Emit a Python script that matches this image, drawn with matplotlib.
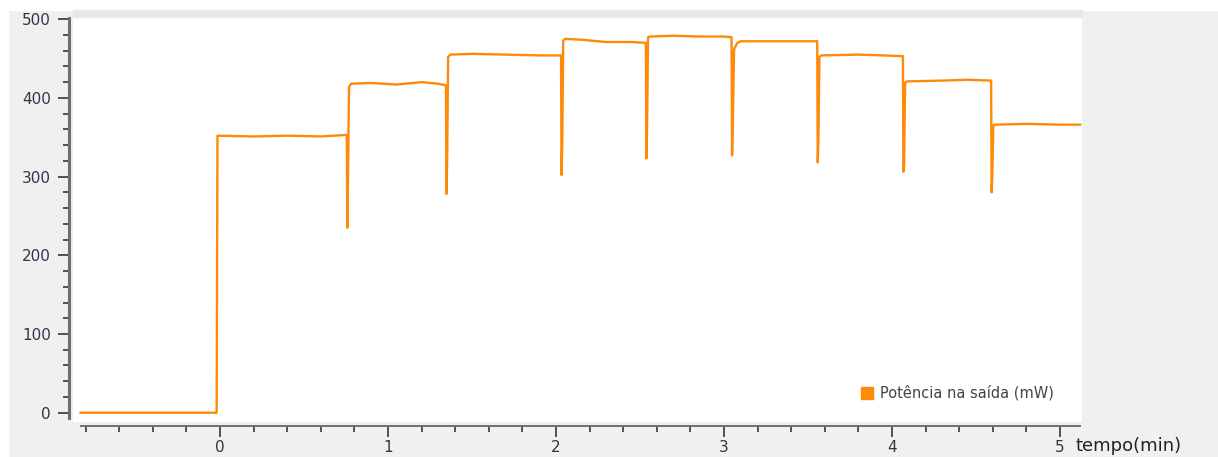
import matplotlib.pyplot as plt
from matplotlib.patches import Rectangle
from matplotlib.lines import Line2D
from matplotlib.ticker import MultipleLocator

# tempo (min) and potência (mW)
t = [-0.83, -0.02, -0.015, 0.2, 0.4, 0.6, 0.755,
     0.758, 0.762, 0.768, 0.78, 0.9, 1.05, 1.2, 1.3, 1.345,
     1.348, 1.352, 1.358, 1.37, 1.5, 1.7, 1.9, 2.03,
     2.033, 2.037, 2.043, 2.055, 2.15, 2.3, 2.45, 2.535,
     2.538, 2.542, 2.548, 2.56, 2.7, 2.85, 3.0, 3.045,
     3.048, 3.052, 3.06, 3.08, 3.1, 3.3, 3.45, 3.555,
     3.558, 3.562, 3.568, 3.58, 3.8, 3.95, 4.065,
     4.068, 4.072, 4.078, 4.09, 4.3, 4.45, 4.59,
     4.593, 4.597, 4.603, 4.615, 4.8, 5.0, 5.12]
p = [0, 0, 352, 351, 352, 351, 353,
     235, 300, 414, 418, 419, 417, 420, 418, 416,
     278, 320, 452, 455, 456, 455, 454, 454,
     302, 340, 473, 475, 474, 471, 471, 470,
     323, 360, 477, 478, 479, 478, 478, 477,
     327, 360, 462, 470, 472, 472, 472, 472,
     318, 345, 452, 454, 455, 454, 453,
     306, 315, 419, 421, 422, 423, 422,
     280, 300, 365, 366, 367, 366, 366]

yticks = [0, 100, 200, 300, 400, 500]
xticks = [0, 1, 2, 3, 4, 5]

fig = plt.figure(figsize=(12.18, 4.57), dpi=100)
fig.patch.set_facecolor('#f0f0f0')
# white margins and the grey strip above the plot
fig.patches.append(Rectangle((0, 1 - 10/457), 1, 10/457, transform=fig.transFigure,
                             color='white', zorder=0))
fig.patches.append(Rectangle((0, 0), 8/1218, 1, transform=fig.transFigure,
                             color='white', zorder=0))
fig.patches.append(Rectangle((73/1218, 1 - 17/457), (1082-73)/1218, 7/457,
                             transform=fig.transFigure, color='#e8e8e8', zorder=0))

ax = fig.add_axes([73/1218, 1 - 422/457, (1082-73)/1218, (422-17)/457])
ax.set_facecolor('white')
ax.plot(t, p, color='#ff8a0a', lw=1.7)

ax.set_xlim(-0.875, 5.131)
ax.set_ylim(-11.8, 502.8)

for s in ['top', 'right']:
    ax.spines[s].set_visible(False)
ax.spines['left'].set_position(('outward', 3))
ax.spines['left'].set_linewidth(2.2)
ax.spines['left'].set_color('#6e6e6e')
ax.spines['left'].set_bounds(-7, 502)
ax.spines['bottom'].set_position(('outward', 3))
ax.spines['bottom'].set_linewidth(1.4)
ax.spines['bottom'].set_color('#6e6e6e')
ax.spines['bottom'].set_bounds(-0.83, 5.12)

ax.set_yticks(yticks)
ax.set_xticks(xticks)
ax.yaxis.set_minor_locator(MultipleLocator(20))
ax.xaxis.set_minor_locator(MultipleLocator(0.2))
ax.tick_params(axis='both', which='major', length=8, width=1.3, color='#444444',
               labelsize=11, labelcolor='#33334a')
ax.tick_params(axis='x', which='major', pad=2)
ax.tick_params(axis='y', which='major', pad=5)
ax.tick_params(axis='both', which='minor', length=4, width=1.3, color='#444444')

fig.text(1075/1218, 1 - 446/457, 'tempo(min)', fontsize=13, color='#222222',
         va='center', ha='left')

handle = Line2D([], [], color='#ff8a0a', marker='s', markersize=8, linestyle='none')
leg = ax.legend([handle], ['Potência na saída (mW)'], loc='lower right', frameon=False,
                fontsize=10.5, handlelength=0.8, handletextpad=0.5,
                bbox_to_anchor=(0.985, 0.02))
for txt in leg.get_texts():
    txt.set_color('#444444')

fig.savefig('out.png', dpi=100, facecolor=fig.get_facecolor())
